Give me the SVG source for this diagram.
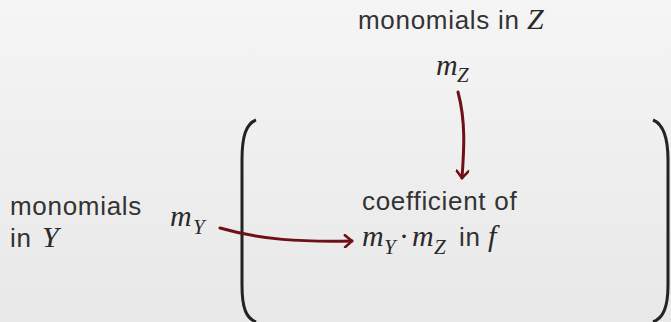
<svg xmlns="http://www.w3.org/2000/svg" width="671" height="322" viewBox="0 0 671 322">
<defs>
<linearGradient id="bg" x1="0" y1="0" x2="0" y2="1">
<stop offset="0" stop-color="#f5f5f5"/>
<stop offset="1" stop-color="#e8e8e8"/>
</linearGradient>
<marker id="ah" viewBox="0 0 12 14" refX="9" refY="7" markerWidth="12" markerHeight="14" markerUnits="userSpaceOnUse" orient="auto">
<path d="M2,1 L9,7 L2,13" fill="none" stroke="#6e1016" stroke-width="2.6" stroke-linecap="round" stroke-linejoin="round"/>
</marker>
<style>
.t{font-family:"Liberation Sans",Arial,sans-serif;font-style:normal;font-size:26px;letter-spacing:0.7px;fill:#333333;}
.m{font-family:"Liberation Serif","Times New Roman",serif;font-style:italic;font-size:30px;letter-spacing:0;fill:#2a2a2a;}
.s{font-size:21px;}
.dot{font-style:normal;}
.conn{fill:none;stroke:#6e1016;stroke-width:3;stroke-linecap:round;}
.par{fill:none;stroke:#232323;stroke-width:3;}
</style>
</defs>
<rect width="671" height="322" fill="url(#bg)"/>
<g id="parens">
<path class="par" d="M256,120 C246,124 242,136 242,160 L242,285 C242,308 246,318 256,322"/>
<path class="par" d="M653,120 C663,124 668,136 668,160 L668,285 C668,308 663,318 653,322"/>
</g>
<g id="label-z">
<text class="t" x="358" y="29">monomials in <tspan class="m" x="527" font-size="28">Z</tspan></text>
</g>
<g id="node-mz">
<text class="m" x="436" y="75">m<tspan class="s" x="457" dy="7">Z</tspan></text>
</g>
<g id="label-y">
<text class="t" x="10" y="215">monomials</text>
<text class="t" x="10" y="247">in <tspan class="m" x="42" font-size="28">Y</tspan></text>
</g>
<g id="node-my">
<text class="m" x="170" y="226">m<tspan class="s" x="193" dy="8">Y</tspan></text>
</g>
<g id="node-coef">
<text class="t" x="362" y="210">coefficient of</text>
<text class="m" x="362" y="246">m<tspan class="s" x="384" dy="8">Y</tspan><tspan class="dot" x="399" dy="-8">·</tspan><tspan x="412">m</tspan><tspan class="s" x="434" dy="8">Z</tspan><tspan class="t" x="459" dy="-8">in</tspan><tspan x="488">f</tspan></text>
</g>
<g id="connectors">
<path class="conn" d="M458,92 C466,122 464,150 462,178" marker-end="url(#ah)"/>
<path class="conn" d="M220,228 C262,240 300,242 352,241" marker-end="url(#ah)"/>
</g>
</svg>
